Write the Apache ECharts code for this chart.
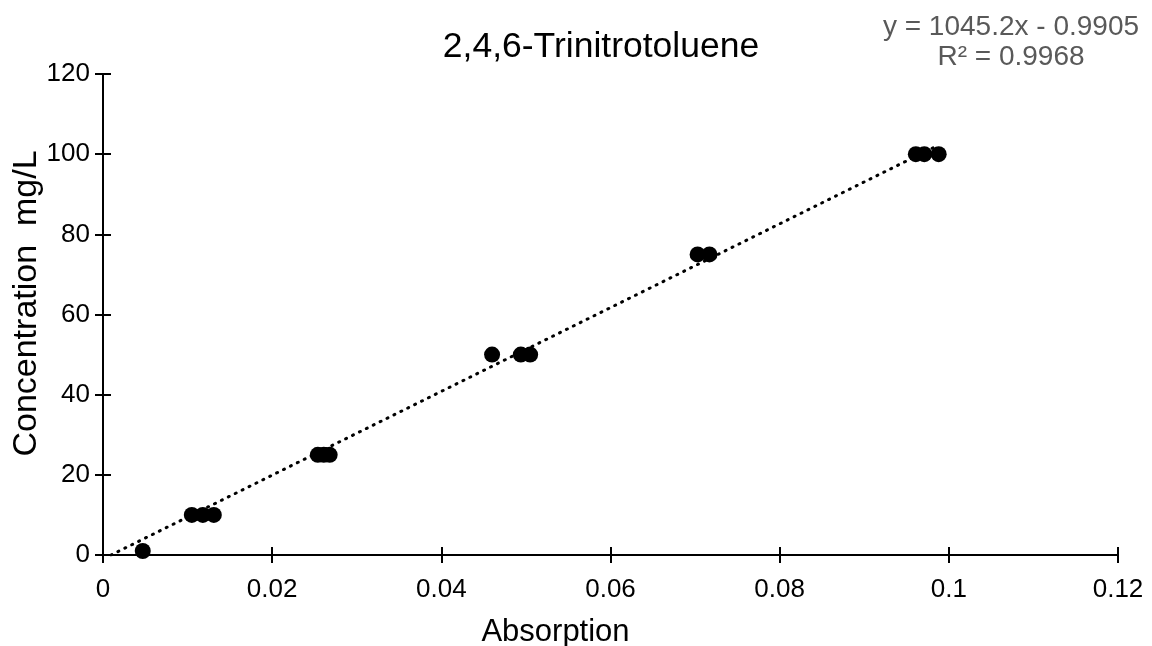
<!DOCTYPE html>
<html><head><meta charset="utf-8">
<script src="https://cdn.jsdelivr.net/npm/echarts@6/dist/echarts.min.js"></script>
<style>html,body{margin:0;padding:0;background:#fff}#c{width:1152px;height:646px}</style>
</head><body><div id="c"></div>
<script>
const absorption = [0.0047, 0.0105, 0.0118, 0.0131, 0.0254, 0.0261, 0.0268, 0.0460, 0.0494, 0.0505, 0.0703, 0.0717, 0.0961, 0.0971, 0.0988];
const concentration = [1, 10, 10, 10, 25, 25, 25, 50, 50, 50, 75, 75, 100, 100, 100];
const slope = 1045.2, intercept = -0.9905;
const trendX = [0.00095, 0.0988];
const xTicks = [0, 0.02, 0.04, 0.06, 0.08, 0.1, 0.12];
const yTicks = [0, 20, 40, 60, 80, 100, 120];
const titleText = '2,4,6-Trinitrotoluene';
const eqText = 'y = 1045.2x - 0.9905';
const r2Text = 'R² = 0.9968';

const font = 'Liberation Sans, Arial, sans-serif';
const chart = echarts.init(document.getElementById('c'), null, {renderer: 'canvas'});
const grid = {left: 103, right: 34, top: 74, bottom: 91, containLabel: false, outerBoundsMode: 'none'};
const axBase = (ticksInside, showLabel) => ({
  axisLine: {show: true, lineStyle: {color: '#000', width: 2}},
  axisTick: {show: true, inside: ticksInside, length: 8, lineStyle: {color: '#000', width: 2}},
  splitLine: {show: false},
  nameMoveOverlap: false,
  axisLabel: {show: showLabel, color: '#000', fontSize: 26, fontFamily: font}
});
chart.setOption({
  animation: false,
  title: [
    {text: titleText, left: 596, top: 24, textAlign: 'center', textStyle: {fontSize: 35.5, fontWeight: 'normal', color: '#000', fontFamily: font}},
    {text: eqText, left: 1006, top: 8, textAlign: 'center', textStyle: {fontSize: 28, fontWeight: 'normal', color: '#595959', fontFamily: font}},
    {text: r2Text, left: 1006, top: 38, textAlign: 'center', textStyle: {fontSize: 28, fontWeight: 'normal', color: '#595959', fontFamily: font}}
  ],
  grid: grid,
  xAxis: [
    Object.assign(axBase(false, true), {type: 'value', min: 0, max: 0.12, interval: 0.02,
      name: 'Absorption', nameLocation: 'middle', nameGap: 62,
      nameTextStyle: {fontSize: 31, color: '#000', fontFamily: font, padding: [0, 110, 0, 0]},
      axisLabel: {color: '#000', fontSize: 26, fontFamily: font, margin: 22, formatter: v => String(+v.toFixed(2))}}),
    Object.assign(axBase(true, false), {type: 'value', min: 0, max: 0.12, interval: 0.02, position: 'bottom'})
  ],
  yAxis: [
    Object.assign(axBase(false, true), {type: 'value', min: 0, max: 120, interval: 20,
      name: 'Concentration  mg/L', nameLocation: 'middle', nameGap: 59,
      nameTextStyle: {fontSize: 34, color: '#000', fontFamily: font, padding: [0, 0, 0, 22]},
      axisLabel: {color: '#000', fontSize: 26, fontFamily: font, margin: 13}}),
    Object.assign(axBase(true, false), {type: 'value', min: 0, max: 120, interval: 20, position: 'left'})
  ],
  series: [
    {type: 'line', xAxisIndex: 0, yAxisIndex: 0, symbol: 'none',
      data: trendX.map(x => [x, slope * x + intercept]),
      lineStyle: {color: '#000', width: 3, type: [1, 6.7], cap: 'round'}, z: 3},
    {type: 'scatter', xAxisIndex: 0, yAxisIndex: 0, symbolSize: 16,
      itemStyle: {color: '#000', opacity: 1},
      data: absorption.map((x, i) => [x, concentration[i]]), z: 4}
  ]
});
</script></body></html>
